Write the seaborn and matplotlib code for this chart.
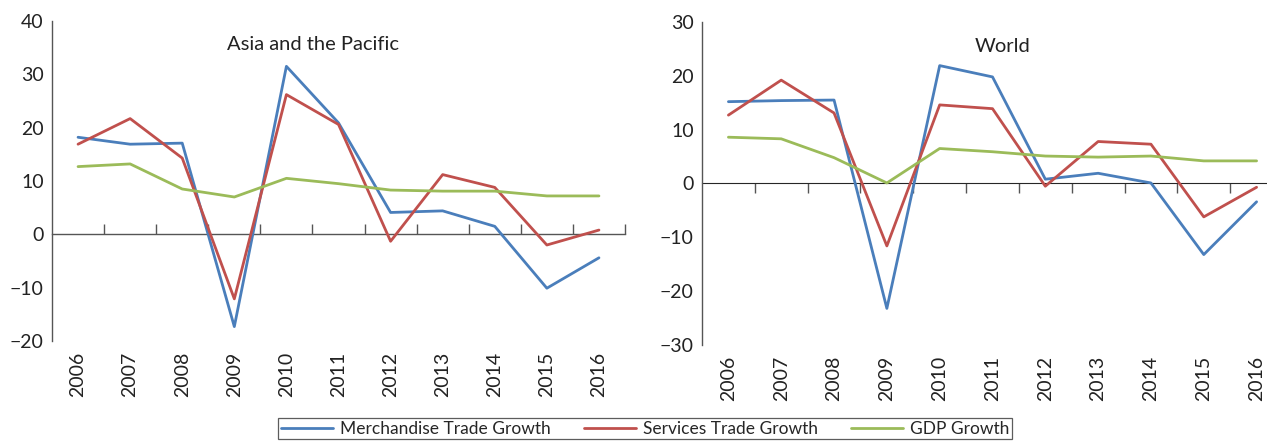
import matplotlib
matplotlib.use("Agg")
import matplotlib.pyplot as plt
import seaborn as sns
import pandas as pd

years = ["2006", "2007", "2008", "2009", "2010", "2011", "2012", "2013", "2014", "2015", "2016"]
series_names = ["Merchandise Trade Growth", "Services Trade Growth", "GDP Growth"]

asia_merch = [18.2, 16.9, 17.1, -17.3, 31.5, 20.9, 4.1, 4.4, 1.5, -10.1, -4.4]
asia_services = [16.9, 21.7, 14.3, -12.1, 26.2, 20.6, -1.3, 11.2, 8.8, -2.0, 0.8]
asia_gdp = [12.7, 13.2, 8.5, 7.0, 10.5, 9.5, 8.3, 8.1, 8.1, 7.2, 7.2]

world_merch = [15.2, 15.4, 15.5, -23.2, 21.9, 19.8, 0.8, 1.9, 0.1, -13.2, -3.4]
world_services = [12.7, 19.2, 13.1, -11.6, 14.6, 13.9, -0.5, 7.8, 7.3, -6.2, -0.7]
world_gdp = [8.6, 8.3, 4.8, 0.1, 6.5, 5.9, 5.1, 4.9, 5.1, 4.2, 4.2]

colors = ["#4A7EBB", "#C0504D", "#9BBB59"]


def long_frame(merch, services, gdp):
    rows = []
    for name, vals in zip(series_names, [merch, services, gdp]):
        for i, v in enumerate(vals):
            rows.append({"idx": i, "value": v, "series": name})
    return pd.DataFrame(rows)


sns.set_style("white")
plt.rcParams["font.family"] = ["Lato", "DejaVu Sans"]

fig = plt.figure(figsize=(12.67, 4.41), dpi=100)
ax1 = fig.add_axes([52 / 1267, 1 - 341 / 441, 573 / 1267, 320 / 441])
ax2 = fig.add_axes([702 / 1267, 1 - 345 / 441, 581 / 1267, 323 / 441])

panels = [
    (ax1, long_frame(asia_merch, asia_services, asia_gdp), (-20, 40), "Asia and the Pacific", 0.455),
    (ax2, long_frame(world_merch, world_services, world_gdp), (-30, 30), "World", 0.518),
]

for ax, df, ylim, title, tx in panels:
    sns.lineplot(data=df, x="idx", y="value", hue="series", palette=colors,
                 linewidth=2.0, ax=ax, legend=(ax is ax1))
    ax.set_xlim(-0.5, 10.5)
    ax.set_ylim(*ylim)
    ax.set_yticks(range(ylim[0], ylim[1] + 1, 10))
    ax.set_xticks(range(len(years)))
    ax.set_xticklabels(years, rotation=90)
    ax.tick_params(axis="both", length=0, labelsize=14, colors="#222222")
    ax.tick_params(axis="x", pad=8)
    ax.tick_params(axis="y", pad=6)
    ax.set_xlabel("")
    ax.set_ylabel("")
    for s in ["top", "right", "bottom"]:
        ax.spines[s].set_visible(False)
    ax.spines["left"].set_color("#555555")
    ax.spines["left"].set_linewidth(1.0)
    # zero line with boundary ticks
    frac = (0 - ylim[0]) / (ylim[1] - ylim[0])
    sec = ax.secondary_xaxis(frac)
    sec.set_xticks([i + 0.5 for i in range(len(years))])
    sec.set_xticklabels([])
    sec.tick_params(direction="in", length=7, width=1.0, color="#555555")
    sec.spines["bottom"].set_color("#555555")
    sec.spines["bottom"].set_linewidth(1.0)
    ax.text(tx, 0.925, title, transform=ax.transAxes, ha="center", va="center",
            fontsize=14.5, color="#222222")

handles, labels = ax1.get_legend_handles_labels()
ax1.get_legend().remove()
leg = fig.legend(handles, labels, loc="upper center", bbox_to_anchor=(0.509, 1 - 418 / 441),
                 ncol=3, frameon=True, fancybox=False, fontsize=12.5, handlelength=3.0,
                 columnspacing=1.9, handletextpad=0.4, borderpad=0.15, borderaxespad=0)
leg.get_frame().set_edgecolor("#333333")
leg.get_frame().set_linewidth(0.9)

fig.savefig("out.png", dpi=100)
